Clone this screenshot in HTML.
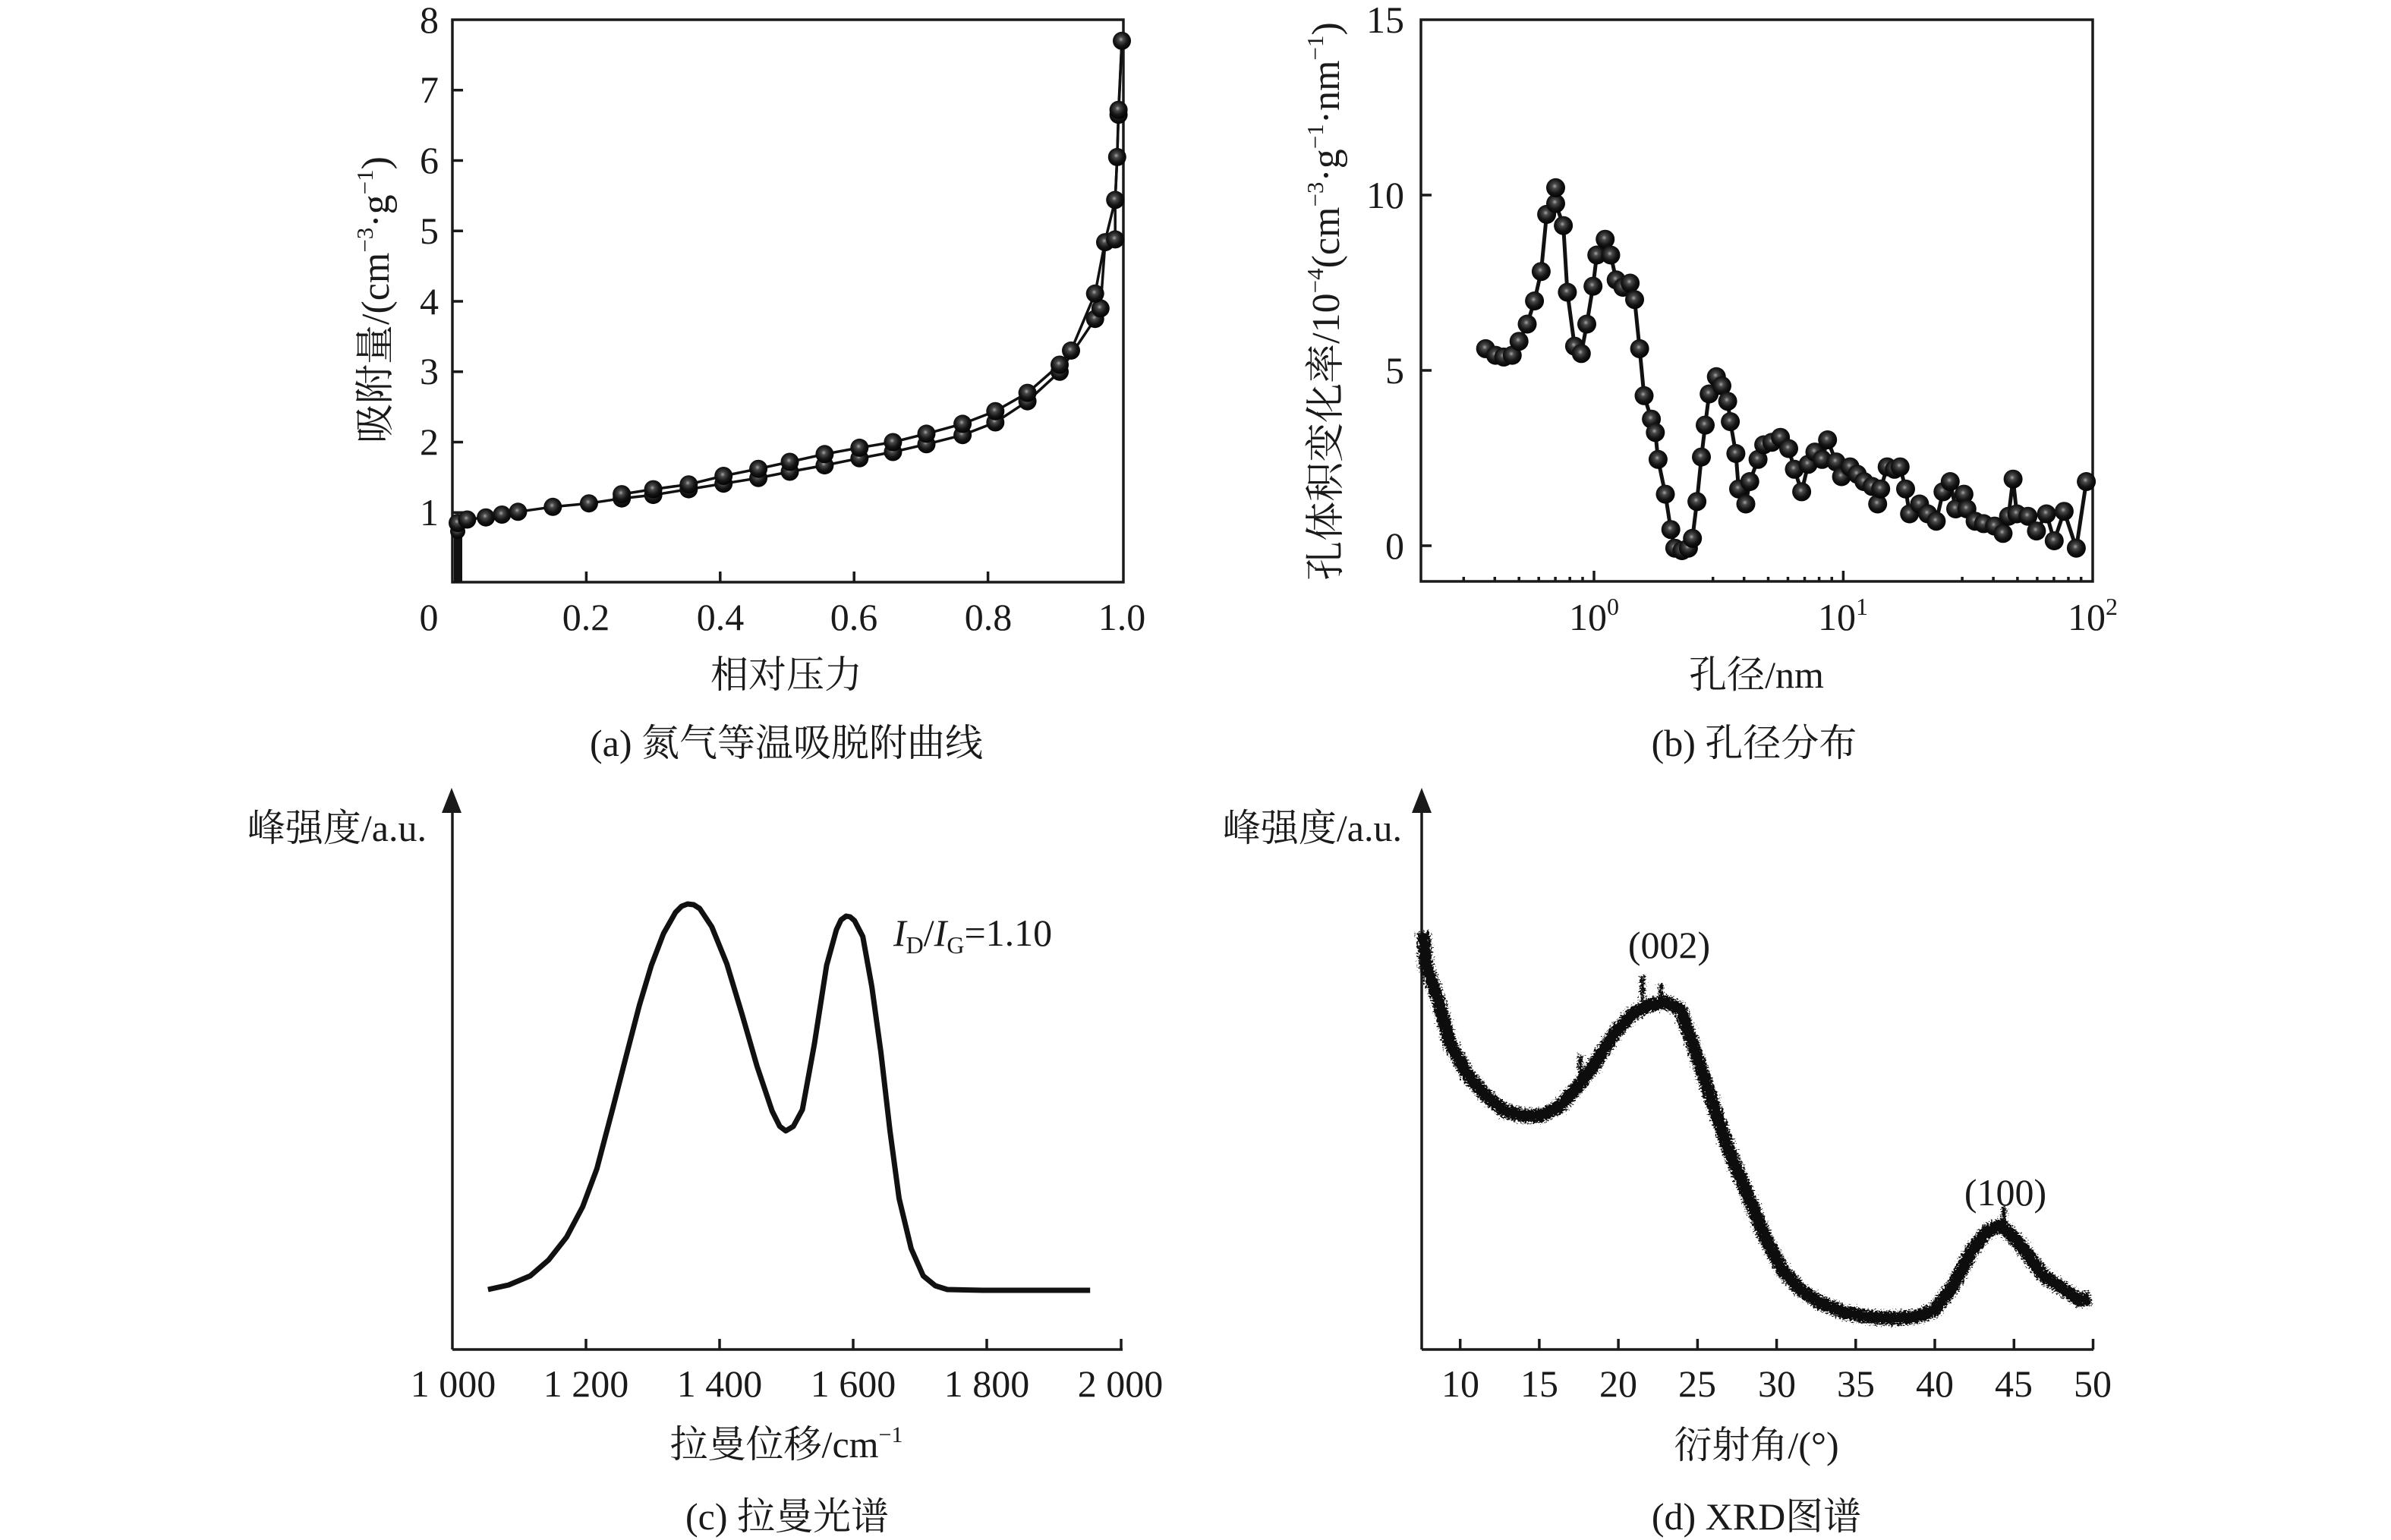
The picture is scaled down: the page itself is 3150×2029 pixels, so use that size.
<!DOCTYPE html>
<html><head><meta charset="utf-8"><style>
html,body{margin:0;padding:0;background:#fff;}
svg{display:block;}
text{font-family:"Liberation Serif","Noto Serif CJK SC","Noto Sans CJK SC",serif;fill:#1a1a1a;}
</style></head><body>
<svg width="3150" height="2029" viewBox="0 0 3150 2029" xmlns="http://www.w3.org/2000/svg">
<defs>
<radialGradient id="sph" cx="0.45" cy="0.42" r="0.6">
<stop offset="0" stop-color="#a8a8a8"/>
<stop offset="0.22" stop-color="#4a4a4a"/>
<stop offset="0.6" stop-color="#161616"/>
<stop offset="1" stop-color="#000"/>
</radialGradient>
<filter id="rough" x="-3%" y="-5%" width="106%" height="110%">
<feTurbulence type="fractalNoise" baseFrequency="0.35 0.5" numOctaves="3" seed="4" result="t"/>
<feDisplacementMap in="SourceGraphic" in2="t" scale="14" xChannelSelector="R" yChannelSelector="G"/>
</filter>
</defs>
<rect width="3150" height="2029" fill="#fff"/>

<!-- ================= Panel (a) ================= -->
<g stroke="#1a1a1a" stroke-width="3.5" fill="none">
<rect x="596" y="26" width="884" height="741"/>
<path d="M596 675.3h14M596 582.5h14M596 489.8h14M596 397h14M596 304.2h14M596 211.5h14M596 118.8h14"/>
<path d="M772.4 767v-14M948.8 767v-14M1125.2 767v-14M1301.6 767v-14"/>
</g>
<g font-size="50" text-anchor="end">
<text x="578" y="692">1</text><text x="578" y="599">2</text><text x="578" y="506">3</text>
<text x="578" y="414">4</text><text x="578" y="321">5</text><text x="578" y="228">6</text>
<text x="578" y="135">7</text><text x="578" y="43">8</text>
</g>
<g font-size="50" text-anchor="middle">
<text x="565" y="830">0</text><text x="772" y="830">0.2</text><text x="949" y="830">0.4</text>
<text x="1125" y="830">0.6</text><text x="1302" y="830">0.8</text><text x="1478" y="830">1.0</text>
<text x="1036" y="906">相对压力</text>
<text x="1036" y="996">(a) 氮气等温吸脱附曲线</text>
</g>
<text font-size="52" text-anchor="middle" transform="translate(512,395) rotate(-90)">吸附量/(cm<tspan font-size="31" dy="-21">−3</tspan><tspan dy="21">·g</tspan><tspan font-size="31" dy="-21">−1</tspan><tspan dy="21">)</tspan></text>

<rect x="598" y="680" width="11" height="87" fill="#111"/>
<g stroke="#111" stroke-width="3.5" fill="none" stroke-linejoin="round">
<polyline points="601.3,768 601.3,689.2 615.4,684.5 640.1,681.7 661.3,678 682.4,674.3 728.3,667.8 775.9,663.2 819.1,656.7 860.6,652.1 907.3,644.6 953.2,637.2 999.1,629.8 1040.5,621.5 1086.4,613.1 1132.3,603.8 1176.4,595.5 1220.5,585.3 1268.1,573.2 1311.3,556.5 1353.6,528.7 1396,489.8 1442.7,420.2 1449.8,406.3 1456,319.1 1469.2,315.4 1469.2,263.4 1471.8,206.9 1473.6,151.2 1478,53.8"/>
<polyline points="819.1,651.1 860.6,644.6 907.3,638.2 953.2,627 999.1,617.7 1040.5,608.5 1086.4,598.3 1132.3,589.9 1176.4,582.5 1220.5,571.4 1268.1,558.4 1311.3,541.7 1353.6,517.6 1396,480.5 1411,461.9 1442.7,386.8 1456,317.2 1469.2,263.4 1471.8,206.9 1473.6,144.7 1478,53.8"/>
</g>
<g fill="url(#sph)">
<circle cx="603" cy="700" r="10"/><circle cx="603" cy="689" r="12"/>
<circle cx="615.4" cy="684.5" r="12"/><circle cx="640.1" cy="681.7" r="12"/><circle cx="661.3" cy="678" r="12"/><circle cx="682.4" cy="674.3" r="12"/><circle cx="728.3" cy="667.8" r="12"/><circle cx="775.9" cy="663.2" r="12"/>
<circle cx="819.1" cy="656.7" r="12"/><circle cx="860.6" cy="652.1" r="12"/><circle cx="907.3" cy="644.6" r="12"/><circle cx="953.2" cy="637.2" r="12"/><circle cx="999.1" cy="629.8" r="12"/><circle cx="1040.5" cy="621.5" r="12"/><circle cx="1086.4" cy="613.1" r="12"/><circle cx="1132.3" cy="603.8" r="12"/><circle cx="1176.4" cy="595.5" r="12"/><circle cx="1220.5" cy="585.3" r="12"/><circle cx="1268.1" cy="573.2" r="12"/><circle cx="1311.3" cy="556.5" r="12"/><circle cx="1353.6" cy="528.7" r="12"/><circle cx="1396" cy="489.8" r="12"/><circle cx="1442.7" cy="420.2" r="12"/><circle cx="1449.8" cy="406.3" r="12"/><circle cx="1456" cy="319.1" r="12"/><circle cx="1469.2" cy="315.4" r="12"/><circle cx="1469.2" cy="263.4" r="12"/><circle cx="1471.8" cy="206.9" r="12"/><circle cx="1473.6" cy="151.2" r="12"/><circle cx="1478" cy="53.8" r="12"/>
<circle cx="819.1" cy="651.1" r="12"/><circle cx="860.6" cy="644.6" r="12"/><circle cx="907.3" cy="638.2" r="12"/><circle cx="953.2" cy="627" r="12"/><circle cx="999.1" cy="617.7" r="12"/><circle cx="1040.5" cy="608.5" r="12"/><circle cx="1086.4" cy="598.3" r="12"/><circle cx="1132.3" cy="589.9" r="12"/><circle cx="1176.4" cy="582.5" r="12"/><circle cx="1220.5" cy="571.4" r="12"/><circle cx="1268.1" cy="558.4" r="12"/><circle cx="1311.3" cy="541.7" r="12"/><circle cx="1353.6" cy="517.6" r="12"/><circle cx="1396" cy="480.5" r="12"/><circle cx="1411" cy="461.9" r="12"/><circle cx="1442.7" cy="386.8" r="12"/><circle cx="1473.6" cy="144.7" r="12"/>
</g>

<!-- ================= Panel (b) ================= -->
<g stroke="#1a1a1a" stroke-width="3.5" fill="none">
<rect x="1872" y="26" width="885" height="740"/>
<path d="M1872 719h14M1872 488h14M1872 257h14"/>
<path d="M2100 766v-14M2428.4 766v-14"/>
<path d="M1928.3 766v-6M1969.3 766v-6M2001.2 766v-6M2027.2 766v-6M2049.1 766v-6M2068.2 766v-6M2085 766v-6M2256.7 766v-6M2297.7 766v-6M2329.5 766v-6M2355.5 766v-6M2377.5 766v-6M2396.6 766v-6M2413.3 766v-6M2585.1 766v-6M2626.1 766v-6M2657.9 766v-6M2683.9 766v-6M2705.9 766v-6M2725 766v-6M2741.7 766v-6"/>
</g>
<g font-size="50" text-anchor="end">
<text x="1850" y="736">0</text><text x="1850" y="505">5</text><text x="1850" y="274">10</text><text x="1850" y="43">15</text>
</g>
<g font-size="50" text-anchor="middle">
<text x="2100" y="830">10<tspan font-size="32" dy="-20">0</tspan></text>
<text x="2428" y="830">10<tspan font-size="32" dy="-20">1</tspan></text>
<text x="2757" y="830">10<tspan font-size="32" dy="-20">2</tspan></text>
<text x="2314" y="906">孔径/nm</text>
<text x="2311" y="996">(b) 孔径分布</text>
</g>
<text font-size="52" text-anchor="middle" transform="translate(1764,397) rotate(-90)">孔体积变化率/10<tspan font-size="31" dy="-21">−4</tspan><tspan dy="21">(cm</tspan><tspan font-size="31" dy="-21">−3</tspan><tspan dy="21">·g</tspan><tspan font-size="31" dy="-21">−1</tspan><tspan dy="21">·nm</tspan><tspan font-size="31" dy="-21">−1</tspan><tspan dy="21">)</tspan></text>

<polyline fill="none" stroke="#111" stroke-width="5" stroke-linejoin="round" points="1957.2,459.4 1970.3,468.1 1981.1,470.4 1992.3,468.1 2001.2,449.7 2012,427 2021.6,396.5 2030.4,357.7 2037.6,282.4 2049.5,247.3 2049.5,268.1 2059.6,297.2 2064.9,385 2074.4,456.1 2083.3,465.8 2090.5,427 2098.7,377.1 2103.7,336 2114.7,315.2 2122,336 2129.2,368.8 2138.1,378.5 2147.6,373 2153.5,394.7 2160.1,459.4 2166,521.3 2175.6,552.2 2180.8,569.8 2184.4,605.3 2194,651.1 2201.2,697.7 2206.4,722.2 2215.9,725.5 2224.4,722.2 2229.7,709.3 2235.6,660.8 2241.5,602.1 2246.5,560.1 2251.7,519 2261.2,496.3 2268.5,508.3 2276.1,528.7 2279.6,555.5 2286.9,597.5 2290.5,644.2 2300,664 2305.2,634.5 2316.1,605.3 2323.6,586 2334.4,582.7 2345.6,576.2 2356.5,591 2364,618.3 2373.6,647.9 2382.1,611.8 2391,595.6 2400.5,605.3 2407.7,579.5 2418.9,608.6 2426.1,628 2437.3,615.1 2446.8,624.8 2455.7,634.5 2466.5,640.9 2473.7,664 2477.7,644.2 2486.2,615.1 2495.8,618.3 2503.3,615.1 2510.5,644.2 2515.7,677 2528.9,664 2539.7,677 2550.9,686.7 2559.8,647.9 2569.3,634.5 2576.5,670.5 2587.4,651.1 2591.3,670.5 2602.1,686.7 2613.3,689.9 2627.7,693.1 2638.9,702.8 2646.1,680.2 2652.1,631.2 2657,677 2671.7,680.2 2682.9,699.6 2696.1,677 2706.3,712.5 2719.4,673.7 2735.4,722.2 2748.6,634.5"/>
<g fill="url(#sph)">
<circle cx="1957.2" cy="459.4" r="12.5"/><circle cx="1970.3" cy="468.1" r="12.5"/><circle cx="1981.1" cy="470.4" r="12.5"/><circle cx="1992.3" cy="468.1" r="12.5"/><circle cx="2001.2" cy="449.7" r="12.5"/><circle cx="2012" cy="427" r="12.5"/><circle cx="2021.6" cy="396.5" r="12.5"/><circle cx="2030.4" cy="357.7" r="12.5"/><circle cx="2037.6" cy="282.4" r="12.5"/><circle cx="2049.5" cy="268.1" r="12.5"/><circle cx="2049.5" cy="247.3" r="12.5"/><circle cx="2059.6" cy="297.2" r="12.5"/><circle cx="2064.9" cy="385" r="12.5"/><circle cx="2074.4" cy="456.1" r="12.5"/><circle cx="2083.3" cy="465.8" r="12.5"/><circle cx="2090.5" cy="427" r="12.5"/><circle cx="2098.7" cy="377.1" r="12.5"/><circle cx="2103.7" cy="336" r="12.5"/><circle cx="2114.7" cy="315.2" r="12.5"/><circle cx="2122" cy="336" r="12.5"/><circle cx="2129.2" cy="368.8" r="12.5"/><circle cx="2138.1" cy="378.5" r="12.5"/><circle cx="2147.6" cy="373" r="12.5"/><circle cx="2153.5" cy="394.7" r="12.5"/><circle cx="2160.1" cy="459.4" r="12.5"/><circle cx="2166" cy="521.3" r="12.5"/><circle cx="2175.6" cy="552.2" r="12.5"/><circle cx="2180.8" cy="569.8" r="12.5"/><circle cx="2184.4" cy="605.3" r="12.5"/><circle cx="2194" cy="651.1" r="12.5"/><circle cx="2201.2" cy="697.7" r="12.5"/><circle cx="2206.4" cy="722.2" r="12.5"/><circle cx="2215.9" cy="725.5" r="12.5"/><circle cx="2224.4" cy="722.2" r="12.5"/><circle cx="2229.7" cy="709.3" r="12.5"/><circle cx="2235.6" cy="660.8" r="12.5"/><circle cx="2241.5" cy="602.1" r="12.5"/><circle cx="2246.5" cy="560.1" r="12.5"/><circle cx="2251.7" cy="519" r="12.5"/><circle cx="2261.2" cy="496.3" r="12.5"/><circle cx="2268.5" cy="508.3" r="12.5"/><circle cx="2276.1" cy="528.7" r="12.5"/><circle cx="2279.6" cy="555.5" r="12.5"/><circle cx="2286.9" cy="597.5" r="12.5"/><circle cx="2290.5" cy="644.2" r="12.5"/><circle cx="2300" cy="664" r="12.5"/><circle cx="2305.2" cy="634.5" r="12.5"/><circle cx="2316.1" cy="605.3" r="12.5"/><circle cx="2323.6" cy="586" r="12.5"/><circle cx="2334.4" cy="582.7" r="12.5"/><circle cx="2345.6" cy="576.2" r="12.5"/><circle cx="2356.5" cy="591" r="12.5"/><circle cx="2364" cy="618.3" r="12.5"/><circle cx="2373.6" cy="647.9" r="12.5"/><circle cx="2382.1" cy="611.8" r="12.5"/><circle cx="2391" cy="595.6" r="12.5"/><circle cx="2400.5" cy="605.3" r="12.5"/><circle cx="2407.7" cy="579.5" r="12.5"/><circle cx="2418.9" cy="608.6" r="12.5"/><circle cx="2426.1" cy="628" r="12.5"/><circle cx="2437.3" cy="615.1" r="12.5"/><circle cx="2446.8" cy="624.8" r="12.5"/><circle cx="2455.7" cy="634.5" r="12.5"/><circle cx="2466.5" cy="640.9" r="12.5"/><circle cx="2473.7" cy="664" r="12.5"/><circle cx="2477.7" cy="644.2" r="12.5"/><circle cx="2486.2" cy="615.1" r="12.5"/><circle cx="2495.8" cy="618.3" r="12.5"/><circle cx="2503.3" cy="615.1" r="12.5"/><circle cx="2510.5" cy="644.2" r="12.5"/><circle cx="2515.7" cy="677" r="12.5"/><circle cx="2528.9" cy="664" r="12.5"/><circle cx="2539.7" cy="677" r="12.5"/><circle cx="2550.9" cy="686.7" r="12.5"/><circle cx="2559.8" cy="647.9" r="12.5"/><circle cx="2569.3" cy="634.5" r="12.5"/><circle cx="2576.5" cy="670.5" r="12.5"/><circle cx="2587.4" cy="651.1" r="12.5"/><circle cx="2591.3" cy="670.5" r="12.5"/><circle cx="2602.1" cy="686.7" r="12.5"/><circle cx="2613.3" cy="689.9" r="12.5"/><circle cx="2627.7" cy="693.1" r="12.5"/><circle cx="2638.9" cy="702.8" r="12.5"/><circle cx="2646.1" cy="680.2" r="12.5"/><circle cx="2652.1" cy="631.2" r="12.5"/><circle cx="2657" cy="677" r="12.5"/><circle cx="2671.7" cy="680.2" r="12.5"/><circle cx="2682.9" cy="699.6" r="12.5"/><circle cx="2696.1" cy="677" r="12.5"/><circle cx="2706.3" cy="712.5" r="12.5"/><circle cx="2719.4" cy="673.7" r="12.5"/><circle cx="2735.4" cy="722.2" r="12.5"/><circle cx="2748.6" cy="634.5" r="12.5"/>
</g>

<!-- ================= Panel (c) ================= -->
<g stroke="#1a1a1a" stroke-width="3.5" fill="none">
<path d="M596 1778H1479M596 1778V1066"/>
<path d="M772 1778v-14M948 1778v-14M1124 1778v-14M1300 1778v-14M1477 1778v-14"/>
</g>
<polygon points="595,1038 582,1071 608,1071" fill="#1a1a1a"/>
<text font-size="50" x="562" y="1108" text-anchor="end">峰强度/a.u.</text>
<g font-size="50" text-anchor="middle">
<text x="597" y="1840">1 000</text><text x="772" y="1840">1 200</text><text x="948" y="1840">1 400</text>
<text x="1124" y="1840">1 600</text><text x="1300" y="1840">1 800</text><text x="1476" y="1840">2 000</text>
<text x="1036" y="1920">拉曼位移/cm<tspan font-size="30" dy="-20">−1</tspan></text>
<text x="1037" y="2015">(c) 拉曼光谱</text>
</g>
<text font-size="50" x="1177" y="1246"><tspan font-style="italic">I</tspan><tspan font-size="32" dy="10">D</tspan><tspan dy="-10">/</tspan><tspan font-style="italic">I</tspan><tspan font-size="32" dy="10">G</tspan><tspan dy="-10">=1.10</tspan></text>
<polyline fill="none" stroke="#111" stroke-width="7" stroke-linejoin="round" points="642.9,1699 670.1,1693 698.6,1681 722.8,1660 746.4,1630 767.6,1590 786.3,1540 807.4,1460 826.1,1387 842.2,1325 858.1,1272 874.1,1230 890,1202 898,1194 905.9,1191 913.9,1192 921.8,1197 937.7,1221 957.6,1270 977.5,1336 997.4,1405 1017.3,1464 1027.3,1484 1035.2,1490 1045.2,1484 1057.1,1462 1073,1375 1089,1272 1101.9,1225 1108,1212 1114.8,1207 1120,1208 1125.8,1213 1136.7,1234 1148.6,1300 1160.6,1387 1172.5,1490 1184.5,1579 1200.4,1645 1216.3,1681 1232.2,1694 1248.1,1699 1294.9,1700 1436.2,1700"/>

<!-- ================= Panel (d) ================= -->
<g stroke="#1a1a1a" stroke-width="3.5" fill="none">
<path d="M1873 1778H2758M1873 1778V1066"/>
<path d="M1923.7 1778v-14M2027.9 1778v-14M2132.1 1778v-14M2236.4 1778v-14M2340.6 1778v-14M2444.8 1778v-14M2549 1778v-14M2653.3 1778v-14M2757.5 1778v-14"/>
</g>
<polygon points="1873,1038 1860,1071 1886,1071" fill="#1a1a1a"/>
<text font-size="50" x="1847" y="1108" text-anchor="end">峰强度/a.u.</text>
<g font-size="50" text-anchor="middle">
<text x="1924" y="1840">10</text><text x="2028" y="1840">15</text><text x="2132" y="1840">20</text>
<text x="2236" y="1840">25</text><text x="2341" y="1840">30</text><text x="2445" y="1840">35</text>
<text x="2549" y="1840">40</text><text x="2653" y="1840">45</text><text x="2757" y="1840">50</text>
<text x="2314" y="1921">衍射角/(°)</text>
<text x="2314" y="2015">(d) XRD图谱</text>
<text x="2199" y="1262">(002)</text>
<text x="2642" y="1588">(100)</text>
</g>
<g filter="url(#rough)">
<polyline fill="none" stroke="#111" stroke-width="18" stroke-linejoin="round" points="1875,1228 1878.6,1272 1894.5,1317 1910.4,1375 1935.3,1419 1959.2,1445 1983,1464 2006.9,1470 2030.8,1470 2054.7,1458 2078.5,1432 2102.4,1400 2126.3,1362 2150.2,1336 2174.1,1324 2194,1320 2213.9,1330 2229.8,1375 2253.6,1445 2277.5,1515 2301.4,1572 2325.3,1630 2349.2,1675 2373,1700 2396.9,1716 2428.8,1729 2460.6,1735 2492.4,1737 2524.3,1735 2549.1,1726 2573,1694 2596.9,1649 2616.8,1623 2636.7,1614 2652.6,1630 2668.5,1649 2692.4,1681 2716.3,1697 2740.2,1713 2754.1,1710"/>
<path d="M2164 1286v48M2188 1296v30M2082 1390v40M2640 1590v24" stroke="#111" stroke-width="6"/>
</g>
</svg>
</body></html>
